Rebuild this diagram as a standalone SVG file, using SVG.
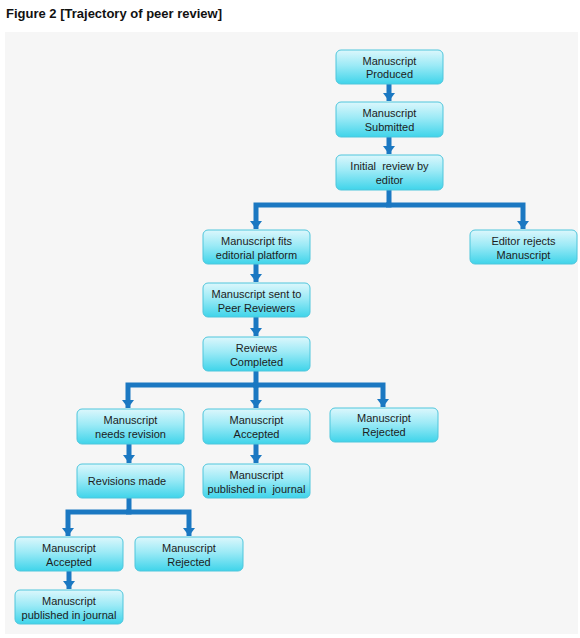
<svg xmlns="http://www.w3.org/2000/svg" width="580" height="638" viewBox="0 0 580 638">
<defs>
<linearGradient id="g" x1="0" y1="0" x2="0" y2="1">
<stop offset="0" stop-color="#dcf7fc"/>
<stop offset="0.45" stop-color="#9ceaf6"/>
<stop offset="1" stop-color="#3fd4ea"/>
</linearGradient>
<marker id="ah" markerUnits="userSpaceOnUse" markerWidth="14" markerHeight="9" refX="7" refY="8" orient="auto" viewBox="0 0 14 9">
<path d="M1,1 L13,1 L7,8 Z" transform="rotate(-90 7 4.5)" fill="#1b78c2"/>
</marker>
<marker id="arr" markerUnits="userSpaceOnUse" markerWidth="12" markerHeight="12" refX="8" refY="6" orient="auto" viewBox="0 0 12 12">
<path d="M0,0 L8,6 L0,12 Z" fill="#1b78c2"/>
</marker>
</defs>
<style>
.node rect{fill:url(#g);stroke:#4fc6dc;stroke-width:1}
.node text{font-family:"Liberation Sans",Arial,sans-serif;font-size:11px;fill:#1c1c1c;text-anchor:middle}
.title{font-family:"Liberation Sans",Arial,sans-serif;font-size:13px;font-weight:bold;fill:#111}
#connectors path{fill:none;stroke:#1b78c2;stroke-width:5;stroke-linejoin:miter;marker-end:url(#arr)}
#connectors path.nohead{marker-end:none}
</style>
<rect x="0" y="0" width="580" height="638" fill="#ffffff"/>
<text class="title" x="6" y="18">Figure 2 [Trajectory of peer review]</text>
<rect x="5" y="32" width="573" height="602" fill="#f6f6f6"/>
<g id="connectors">
<path d="M389,84 V101"/>
<path d="M389,137 V154"/>
<path d="M389,190 V205 H256 V229"/>
<path d="M386,205 H523 V229"/>
<path d="M256,264 V282"/>
<path d="M256,317 V336"/>
<path d="M256,371 V385 H128 V408"/>
<path d="M256,385 V408"/>
<path d="M253,385 H383 V407"/>
<path d="M129,444 V463"/>
<path d="M256,444 V463"/>
<path d="M129,498 V512 H68 V536"/>
<path d="M126,512 H189 V536"/>
<path d="M69,571 V589"/>
</g>
<g id="n1" class="node"><rect x="336" y="50" width="107" height="34" rx="5"/><text x="389.5" y="65">Manuscript</text><text x="389.5" y="78">Produced</text></g>
<g id="n2" class="node"><rect x="336" y="102" width="107" height="35" rx="5"/><text x="389.5" y="117">Manuscript</text><text x="389.5" y="131">Submitted</text></g>
<g id="n3" class="node"><rect x="336" y="155" width="107" height="35" rx="5"/><text x="389.5" y="170" xml:space="preserve">Initial  review by</text><text x="389.5" y="184">editor</text></g>
<g id="n4" class="node"><rect x="203" y="230" width="107" height="34" rx="5"/><text x="256.5" y="245">Manuscript fits</text><text x="256.5" y="259">editorial platform</text></g>
<g id="n5" class="node"><rect x="470" y="230" width="107" height="34" rx="5"/><text x="523.5" y="245">Editor rejects</text><text x="523.5" y="259">Manuscript</text></g>
<g id="n6" class="node"><rect x="203" y="283" width="107" height="34" rx="5"/><text x="256.5" y="298">Manuscript sent to</text><text x="256.5" y="312">Peer Reviewers</text></g>
<g id="n7" class="node"><rect x="203" y="337" width="107" height="34" rx="5"/><text x="256.5" y="352">Reviews</text><text x="256.5" y="366">Completed</text></g>
<g id="n8" class="node"><rect x="77" y="409" width="107" height="35" rx="5"/><text x="130.5" y="424">Manuscript</text><text x="130.5" y="438">needs revision</text></g>
<g id="n9" class="node"><rect x="203" y="409" width="107" height="35" rx="5"/><text x="256.5" y="424">Manuscript</text><text x="256.5" y="438">Accepted</text></g>
<g id="n10" class="node"><rect x="330" y="408" width="108" height="34" rx="5"/><text x="384" y="422">Manuscript</text><text x="384" y="436">Rejected</text></g>
<g id="n11" class="node"><rect x="77" y="464" width="107" height="34" rx="5"/><text x="127" y="485">Revisions made</text></g>
<g id="n12" class="node"><rect x="203" y="464" width="107" height="34" rx="5"/><text x="256.5" y="479">Manuscript</text><text x="256.5" y="493" xml:space="preserve">published in  journal</text></g>
<g id="n13" class="node"><rect x="15" y="537" width="108" height="34" rx="5"/><text x="69" y="552">Manuscript</text><text x="69" y="566">Accepted</text></g>
<g id="n14" class="node"><rect x="135" y="537" width="108" height="34" rx="5"/><text x="189" y="552">Manuscript</text><text x="189" y="566">Rejected</text></g>
<g id="n15" class="node"><rect x="15" y="590" width="108" height="34" rx="5"/><text x="69" y="605">Manuscript</text><text x="69" y="619">published in journal</text></g>
</svg>
